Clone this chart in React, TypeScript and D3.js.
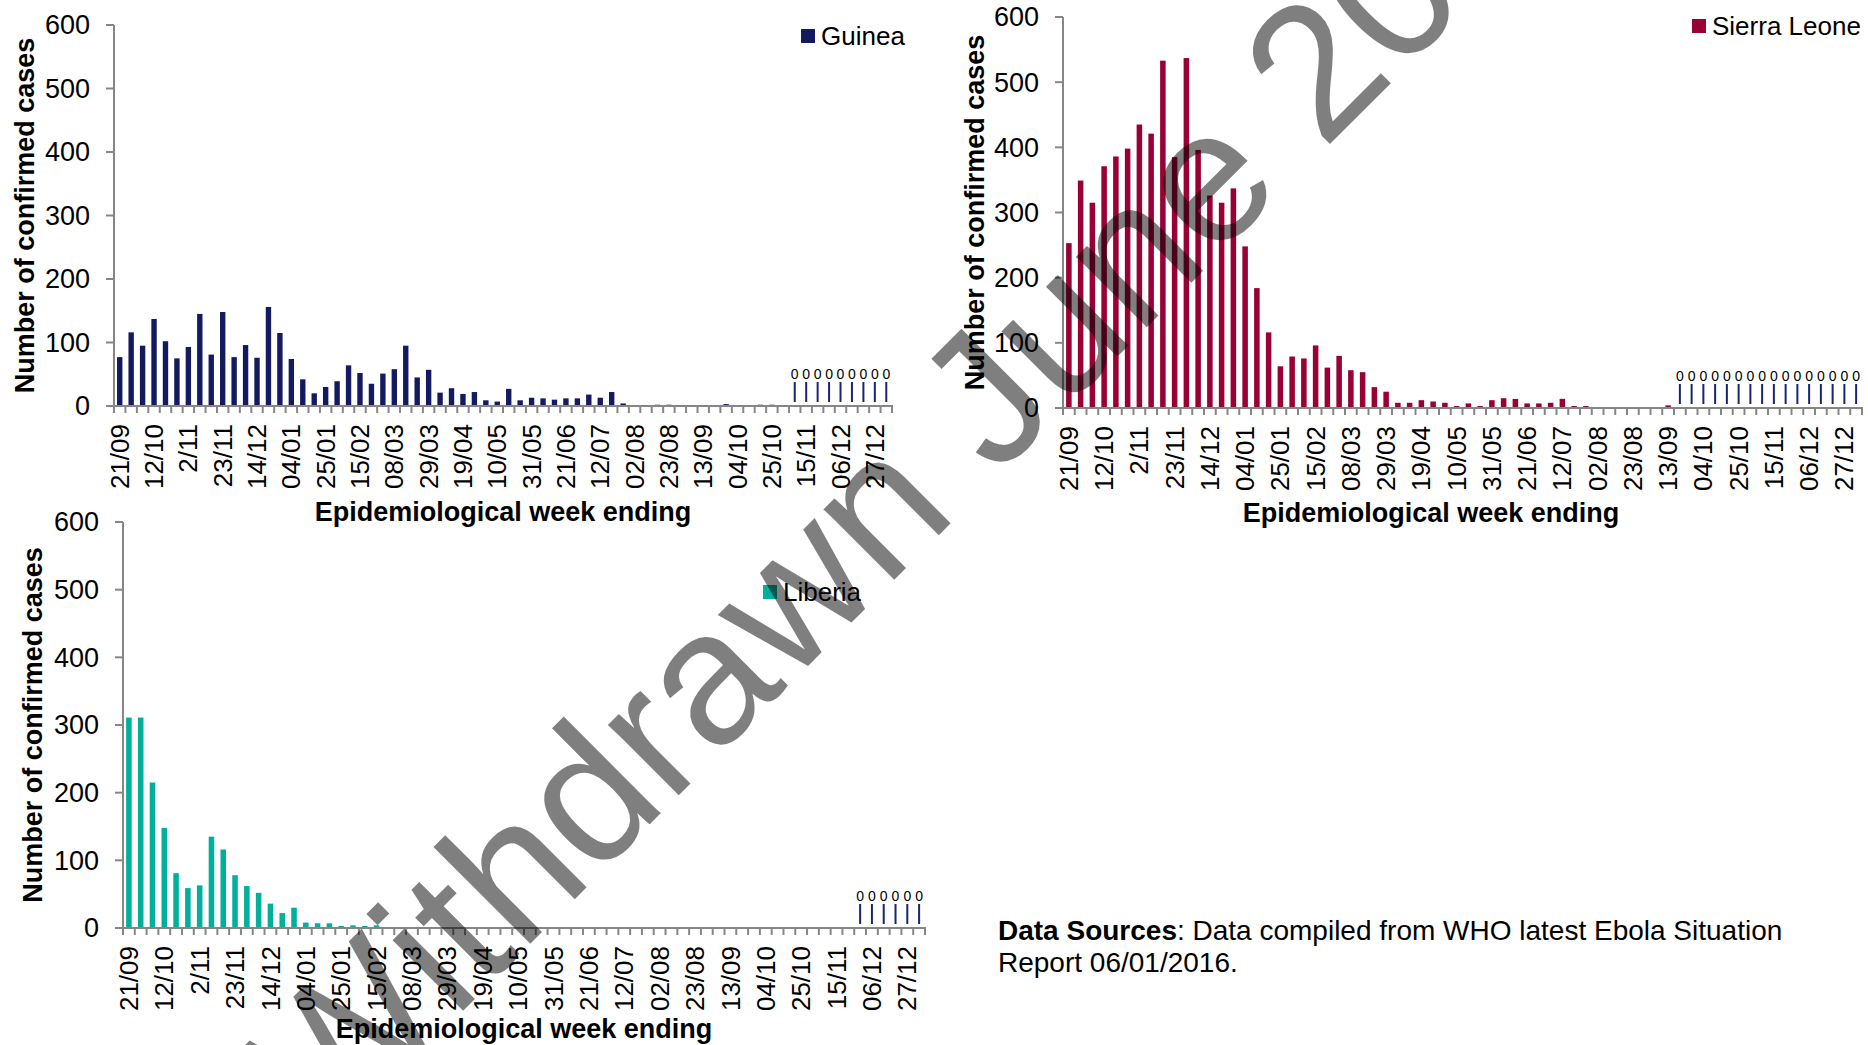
import React from 'react';
import * as d3 from 'd3';

const weeks = [
  '21/09','28/09','05/10','12/10','19/10','26/10','2/11','09/11','16/11','23/11',
  '30/11','07/12','14/12','21/12','28/12','04/01','11/01','18/01','25/01','01/02',
  '08/02','15/02','22/02','01/03','08/03','15/03','22/03','29/03','05/04','12/04',
  '19/04','26/04','03/05','10/05','17/05','24/05','31/05','07/06','14/06','21/06',
  '28/06','05/07','12/07','19/07','26/07','02/08','09/08','16/08','23/08','30/08',
  '06/09','13/09','20/09','27/09','04/10','11/10','18/10','25/10','01/11','08/11',
  '15/11','22/11','29/11','06/12','13/12','20/12','27/12','03/01b'
];

const tickLabels = [
  '21/09','12/10','2/11','23/11','14/12','04/01','25/01','15/02','08/03','29/03',
  '19/04','10/05','31/05','21/06','12/07','02/08','23/08','13/09','04/10','25/10',
  '15/11','06/12','27/12'
];

const yTicks = [0, 100, 200, 300, 400, 500, 600];

const guineaCases = [
  77,116,95,137,102,75,93,145,81,148,
  77,96,76,156,115,74,42,20,30,39,
  64,52,35,51,58,95,45,57,21,28,
  19,22,9,7,27,9,13,12,10,12,
  12,18,13,22,4,0,1,2,2,1,
  1,0,1,3,0,0,2,2,0,0,
  0,0,0,0,0,0,0,0
];

const sierraLeoneCases = [
  253,349,315,371,386,398,435,421,533,385,
  537,396,326,315,337,248,184,116,64,79,
  76,96,62,80,58,55,32,25,8,8,
  12,10,8,3,7,3,12,15,14,7,
  7,8,14,3,3,1,0,0,0,0,
  0,4,0,0,0,0,0,0,0,0,
  0,0,0,0,0,0,0,0
];

const liberiaCases = [
  311,311,215,148,81,59,63,135,116,78,
  62,52,36,22,30,8,7,7,3,4,
  3,4,0,0,0,0,0,0,0,0,
  0,0,0,0,0,0,0,0,0,0,
  0,1,1,0,0,0,0,0,0,0,
  0,0,0,0,0,0,0,0,0,0,
  0,1,0,0,0,0,0,0
];

const guineaZeroWeeks = ['08/11','15/11','22/11','29/11','06/12','13/12','20/12','27/12','03/01b'];
const sierraLeoneZeroWeeks = [
  '20/09','27/09','04/10','11/10','18/10','25/10','01/11','08/11',
  '15/11','22/11','29/11','06/12','13/12','20/12','27/12','03/01b'
];
const liberiaZeroWeeks = ['29/11','06/12','13/12','20/12','27/12','03/01b'];

const FONT = "'Liberation Sans', Arial, Helvetica, sans-serif";
const AXIS = '#868686';
const ZERO_LINE = '#1b2470';

type ChartProps = {
  name: string;
  values: number[];
  zeroWeeks: string[];
  color: string;
  x0: number; x1: number; yTop: number; yBot: number;
  legendX: number; legendY: number;
  xTitleX: number; xTitleY: number;
  yTitleX: number;
};

function Chart(p: ChartProps) {
  const x = d3.scaleBand<string>().domain(weeks).range([p.x0, p.x1]).paddingInner(0.53).paddingOuter(0.265);
  const step = x.step();
  const y = d3.scaleLinear().domain([0, 600]).range([p.yBot, p.yTop]);
  const cx = (w: string) => (x(w) as number) + x.bandwidth() / 2;
  const boundaries = d3.range(weeks.length + 1).map(i => p.x0 + i * step);
  return (
    <g>
      {weeks.map((w, i) => p.values[i] > 0 ? (
        <rect key={w} x={x(w)} y={y(p.values[i])} width={x.bandwidth()} height={p.yBot - y(p.values[i])} fill={p.color} />
      ) : null)}
      {p.zeroWeeks.map(w => (
        <g key={'z' + w}>
          <line x1={cx(w)} x2={cx(w)} y1={p.yBot - 4} y2={p.yBot - 24} stroke={ZERO_LINE} strokeWidth={2} />
          <text x={cx(w)} y={p.yBot - 27} fontSize={14} textAnchor="middle" fontFamily={FONT} fill="#000">0</text>
        </g>
      ))}
      <line x1={p.x0} x2={p.x0} y1={p.yTop} y2={p.yBot} stroke={AXIS} strokeWidth={2} />
      {yTicks.map(t => (
        <g key={'y' + t}>
          <line x1={p.x0 - 8} x2={p.x0} y1={y(t)} y2={y(t)} stroke={AXIS} strokeWidth={2} />
          <text x={p.x0 - 24} y={y(t)} dy="0.35em" textAnchor="end" fontSize={27} fontFamily={FONT} fill="#000">{t}</text>
        </g>
      ))}
      <line x1={p.x0 - 1} x2={p.x1 + 1} y1={p.yBot} y2={p.yBot} stroke={AXIS} strokeWidth={2} />
      {boundaries.map((b, i) => (
        <line key={'xt' + i} x1={b} x2={b} y1={p.yBot} y2={p.yBot + 7} stroke={AXIS} strokeWidth={2} />
      ))}
      {tickLabels.map(l => (
        <text key={'xl' + l} transform={`translate(${cx(l)},${p.yBot + 18}) rotate(-90)`} dy="0.35em"
          textAnchor="end" fontSize={26} fontFamily={FONT} fill="#000">{l}</text>
      ))}
      <text x={p.xTitleX} y={p.xTitleY} textAnchor="middle" fontSize={27} fontWeight="bold" fontFamily={FONT} fill="#000">Epidemiological week ending</text>
      <text transform={`translate(${p.yTitleX},${(p.yTop + p.yBot) / 2}) rotate(-90)`} textAnchor="middle" fontSize={27}
        fontWeight="bold" fontFamily={FONT} fill="#000">Number of confirmed cases</text>
      <rect x={p.legendX} y={p.legendY} width={14} height={14} fill={p.color} />
      <text x={p.legendX + 20} y={p.legendY + 16} fontSize={26} fontFamily={FONT} fill="#000">{p.name}</text>
    </g>
  );
}

export default function App() {
  return (
    <svg width={1868} height={1045} viewBox="0 0 1868 1045"
      style={{ position: 'absolute', left: 0, top: 0, background: '#fff' }}>
      <rect x={0} y={0} width={1868} height={1045} fill="#fff" />
      <Chart name="Guinea" values={guineaCases} zeroWeeks={guineaZeroWeeks} color="#141a5f"
        x0={114} x1={892} yTop={25} yBot={406} legendX={801} legendY={29}
        xTitleX={503} xTitleY={521} yTitleX={34} />
      <Chart name="Sierra Leone" values={sierraLeoneCases} zeroWeeks={sierraLeoneZeroWeeks} color="#990033"
        x0={1063} x1={1862} yTop={17} yBot={408} legendX={1692} legendY={19}
        xTitleX={1431} xTitleY={522} yTitleX={984} />
      <Chart name="Liberia" values={liberiaCases} zeroWeeks={liberiaZeroWeeks} color="#00b09c"
        x0={123} x1={925} yTop={522} yBot={928} legendX={763} legendY={585}
        xTitleX={524} xTitleY={1038} yTitleX={42} />
      <text x={998} y={940} fontSize={28} fontFamily={FONT} fill="#000">
        <tspan fontWeight="bold">Data Sources</tspan>: Data compiled from WHO latest Ebola Situation
      </text>
      <text x={998} y={972} fontSize={28} fontFamily={FONT} fill="#000">Report 06/01/2016.</text>
      <text transform="translate(328,1146) rotate(-45)" fontSize={189} fontFamily={FONT} fill="#000" fillOpacity={0.5}>
        Withdrawn June 2016
      </text>
    </svg>
  );
}
